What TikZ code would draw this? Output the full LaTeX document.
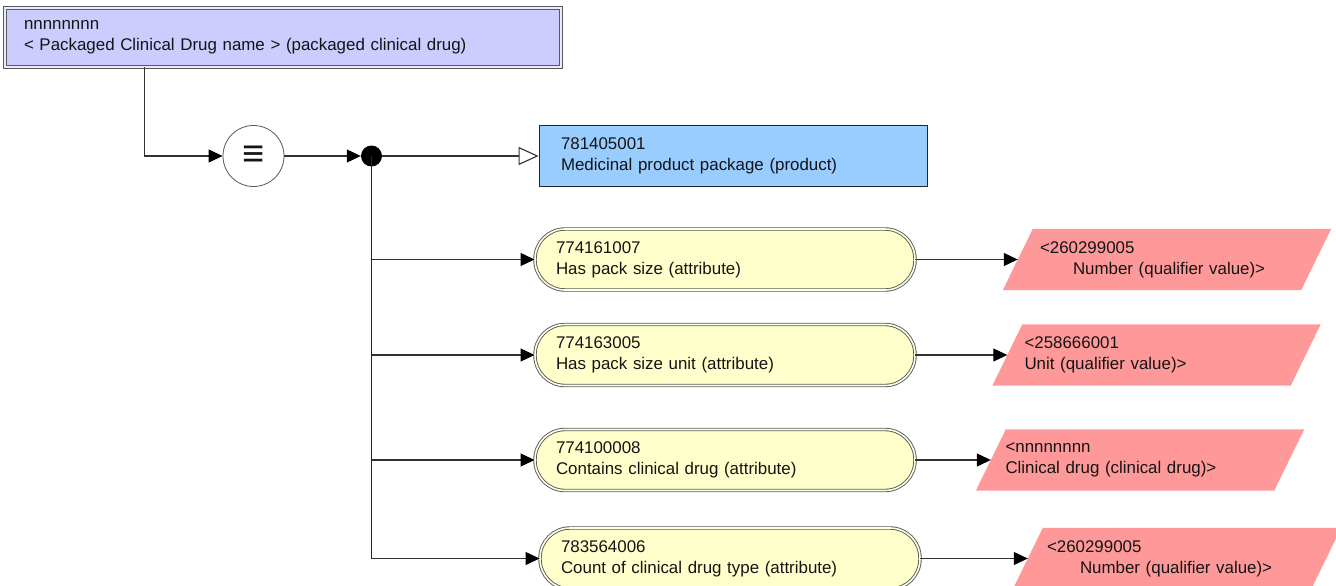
\documentclass[tikz,border=0pt]{standalone}
\usepackage{fontspec}
\setmainfont{Liberation Sans}
\usetikzlibrary{arrows.meta,backgrounds}

\definecolor{lav}{RGB}{204,204,255}
\definecolor{skyb}{RGB}{153,204,255}
\definecolor{ylw}{RGB}{255,255,204}
\definecolor{rosy}{RGB}{255,153,153}
\definecolor{edge}{RGB}{90,90,90}
\definecolor{wire}{RGB}{50,50,50}
\definecolor{ink}{RGB}{20,20,20}

% fill a slanted (parallelogram) backdrop behind a value node
\newcommand\slantfill[1]{%
  \fill[rosy] ([xshift=-15pt]#1.south west) -- ([xshift=-15pt]#1.south east)
    -- ([xshift=15pt]#1.north east) -- ([xshift=15pt]#1.north west) -- cycle;}

\begin{document}
\begin{tikzpicture}[x=1pt,y=-1pt,
  every node/.style={font=\fontsize{16.9}{21}\selectfont, text=ink},
  headbox/.style={draw=edge, fill=lav, double=lav!40!white, line width=0.9pt,
    double distance=1.6pt, minimum width=556pt, minimum height=59pt,
    inner xsep=19pt, text width=518pt, align=left},
  prodbox/.style={draw=black!85, fill=skyb, line width=0.8pt,
    minimum width=388pt, minimum height=61pt,
    inner xsep=22pt, text width=344pt, align=left},
  attrbox/.style={draw=edge, fill=ylw, double=ylw!50!white, line width=0.9pt,
    double distance=1.6pt, rounded corners=30pt, minimum width=380pt,
    minimum height=61pt, inner xsep=21pt, text width=338pt, align=left},
  valbox/.style={minimum width=298pt, minimum height=61pt, align=left},
  defcirc/.style={circle, draw=edge, fill=white, line width=0.8pt,
    minimum size=61pt, inner sep=0pt},
  junction/.style={circle, fill=black, minimum size=21pt, inner sep=0pt},
  conn/.style={draw=wire, line width=1.1pt,
    -{Triangle[length=14pt,width=13pt,color=black]}},
  isa/.style={draw=wire, line width=1.1pt,
    -{Triangle[open,length=20pt,width=18pt,fill=white]}},
  trunk/.style={draw=black!85, line width=1.6pt},
]
\useasboundingbox (0,0) rectangle (1336,586);
\clip (0,0) rectangle (1336,586);

% concept being defined
\node[headbox] (head) at (283,37.5)
  {nnnnnnnn\\< Packaged Clinical Drug name > (packaged clinical drug)};

% definition status and group junction
\node[defcirc] (eq) at (253.5,156) {\fontsize{38}{38}\selectfont\bfseries ≡};
\node[junction] (dot) at (371.5,156) {};

% parent concept
\node[prodbox] (parent) at (733,156)
  {781405001\\Medicinal product package (product)};

% attributes
\node[attrbox] (a1) at (725,259.5) {774161007\\Has pack size (attribute)};
\node[attrbox] (a2) at (725,355) {774163005\\Has pack size unit (attribute)};
\node[attrbox] (a3) at (725,460) {774100008\\Contains clinical drug (attribute)};
\node[attrbox] (a4) at (730,558.5) {783564006\\Count of clinical drug type (attribute)};

% attribute values
\node[valbox, inner xsep=22pt, text width=254pt] (v1) at (1167,259.5)
  {<260299005\\\hspace*{33pt}Number (qualifier value)>};
\node[valbox, inner xsep=17pt, text width=264pt] (v2) at (1156.5,355)
  {<258666001\\Unit (qualifier value)>};
\node[valbox, inner xsep=14.5pt, text width=269pt] (v3) at (1140,460)
  {<nnnnnnnn\\Clinical drug (clinical drug)>};
\node[valbox, inner xsep=19pt, text width=260pt] (v4) at (1177,558.5)
  {<260299005\\\hspace*{33pt}Number (qualifier value)>};

\begin{scope}[on background layer]
  \slantfill{v1}
  \slantfill{v2}
  \slantfill{v3}
  \slantfill{v4}
\end{scope}

% connectors
\coordinate (drop) at ([xshift=140pt]head.south west);
\draw[conn] (drop) |- (eq.west);
\draw[conn] (eq.east) -- (dot.west);
\draw[isa] (dot.east) -- (parent.west);
\draw[trunk] (dot.center) -- (dot.center |- a4.west);
\draw[conn] (dot.center |- a1.west) -- (a1.west);
\draw[conn] (dot.center |- a2.west) -- (a2.west);
\draw[conn] (dot.center |- a3.west) -- (a3.west);
\draw[conn] (dot.center |- a4.west) -- (a4.west);
\draw[conn] (a1.east) -- (v1.west);
\draw[conn] (a2.east) -- (v2.west);
\draw[conn] (a3.east) -- (v3.west);
\draw[conn] (a4.east) -- (v4.west);
\end{tikzpicture}
\end{document}
